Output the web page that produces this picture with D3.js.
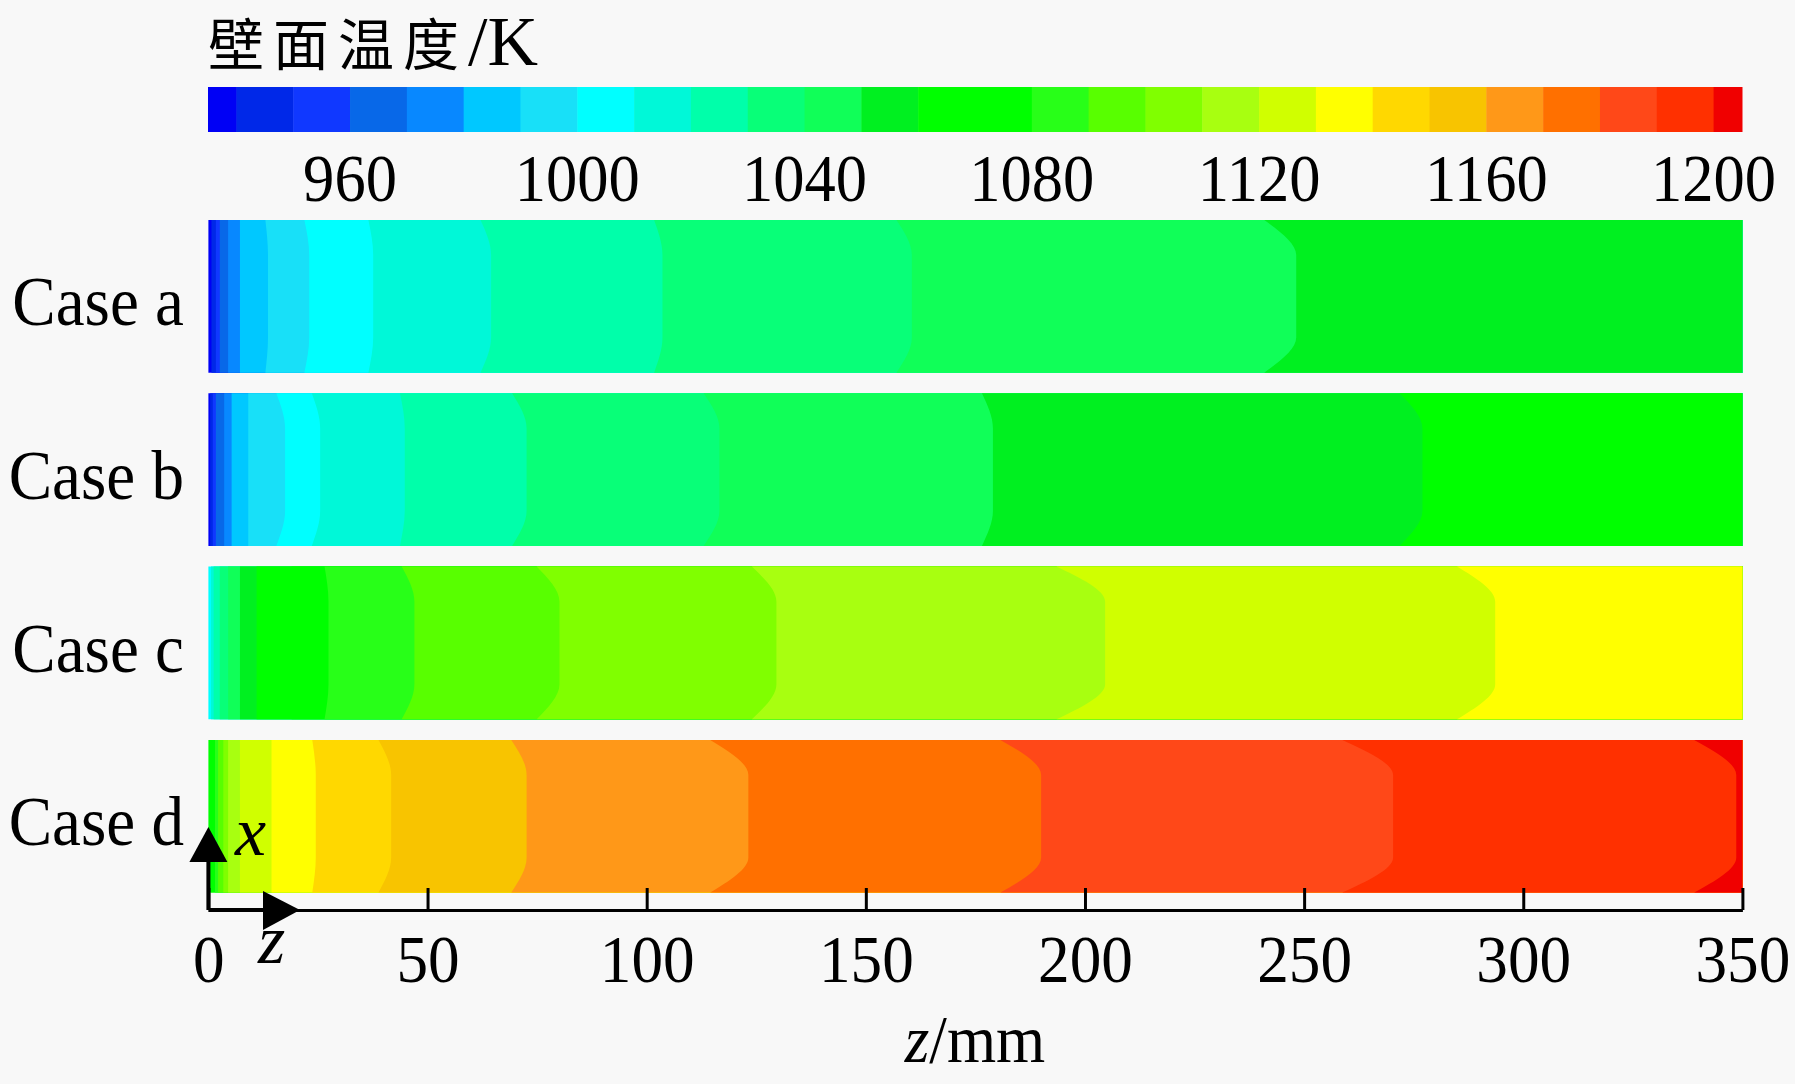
<!DOCTYPE html>
<html lang="zh">
<head>
    <meta charset="UTF-8">
    <script src="https://d3js.org/d3.v7.min.js"></script>
    <style>
        body { margin: 0; background: #f8f8f8; }
        text { font-family: "Liberation Serif", "Times New Roman", serif; fill: #000; }
    </style>
    <title>壁面温度</title>
</head>
<body>
    <div id="chart"></div>
    <script>
        // legend bands: lower bound of each band (K) and its colour
        const legendLevels = [935, 940, 950, 960, 970, 980, 990, 1000, 1010, 1020, 1030, 1040, 1050, 1060,
                              1070, 1080, 1090, 1100, 1110, 1120, 1130, 1140, 1150, 1160, 1170, 1180, 1190, 1200];
        const legendTop = 1205;
        const legendColors = ["#0000f5", "#0028e8", "#1038ff", "#0868e8", "#0888ff", "#00c8ff", "#18e0f8",
                              "#00ffff", "#00f8d8", "#00ffaa", "#08ff78", "#10ff58", "#00f020", "#00ff00",
                              "#00ff00", "#28ff18", "#58ff00", "#80ff00", "#a8ff10", "#d0ff00", "#ffff00",
                              "#ffd800", "#f8c400", "#ff9818", "#ff7000", "#ff4818", "#ff3000", "#f00000"];
        const legendTicks = [960, 1000, 1040, 1080, 1120, 1160, 1200];

        const caseNames = ["Case a", "Case b", "Case c", "Case d"];

        // per case: band level, right boundary at the wall edge (mm), right boundary at mid height (mm)
        const caseA_T    = [935, 940, 950, 960, 970, 980, 990, 1000, 1010, 1020, 1030, 1040, 1050];
        const caseA_edge = [0.7, 1.7, 2.6, 4.5, 7.2, 13.0, 21.9, 36.5, 62.1, 101.7, 157.0, 240.9, 350];
        const caseA_mid  = [0.7, 1.7, 2.6, 4.5, 7.2, 13.6, 23.0, 37.6, 64.5, 103.6, 160.5, 248.2, 350];

        const caseB_T    = [935, 940, 950, 960, 970, 980, 990, 1000, 1010, 1020, 1030, 1040, 1050, 1060];
        const caseB_edge = [0.4, 1.0, 1.7, 3.6, 5.3, 9.1, 15.5, 23.6, 43.7, 69.3, 113.0, 176.5, 271.8, 350];
        const caseB_mid  = [0.4, 1.0, 1.7, 3.6, 5.3, 9.1, 17.5, 25.5, 44.8, 72.6, 116.6, 179.0, 277.0, 350];

        const caseC_T    = [1000, 1010, 1020, 1030, 1040, 1050, 1060, 1070, 1080, 1090, 1100, 1110, 1120, 1130];
        const caseC_edge = [0.6, 1.2, 2.6, 4.5, 7.2, 11.0, 19.0, 26.5, 44.1, 74.9, 124.0, 193.5, 284.9, 350];
        const caseC_mid  = [0.6, 1.2, 2.6, 4.5, 7.2, 11.0, 19.0, 27.4, 47.0, 80.1, 129.6, 204.6, 293.6, 350];

        const caseD_T    = [1060, 1070, 1080, 1090, 1100, 1110, 1120, 1130, 1140, 1150, 1160, 1170, 1180, 1190, 1200];
        const caseD_edge = [0.5, 1.5, 2.2, 3.4, 4.5, 7.2, 14.4, 23.7, 38.8, 69.1, 114.5, 180.7, 258.7, 339.0, 350];
        const caseD_mid  = [0.5, 1.5, 2.2, 3.4, 4.5, 7.2, 14.4, 24.5, 41.7, 72.6, 123.2, 190.0, 270.3, 348.6, 350];

        const zTicks = [0, 50, 100, 150, 200, 250, 300, 350];

        const caseData = [
            {T: caseA_T, edge: caseA_edge, mid: caseA_mid},
            {T: caseB_T, edge: caseB_edge, mid: caseB_mid},
            {T: caseC_T, edge: caseC_edge, mid: caseC_mid},
            {T: caseD_T, edge: caseD_edge, mid: caseD_mid}
        ];

        var width = 1795;
        var height = 1084;

        var svg = d3.select("#chart")
            .append("svg")
            .attr("width", width)
            .attr("height", height);

        var xScale = d3.scaleLinear().domain([0, 350]).range([208.4, 1742.4]);
        var yBand = d3.scaleBand().domain(caseNames).range([220, 892.6]).paddingInner(0.119);
        var cScale = d3.scaleLinear().domain([legendLevels[0], legendTop]).range([208, 1742]);
        var colorOf = d3.scaleOrdinal(legendLevels, legendColors);

        // title
        var title = svg.append("text")
            .attr("x", 208)
            .attr("y", 65);
        title.append("tspan")
            .style("font-family", "'Noto Sans CJK SC'")
            .attr("font-size", 56)
            .attr("letter-spacing", 9)
            .text("壁面温度");
        title.append("tspan")
            .attr("font-size", 70)
            .text("/K");

        // colour bar
        var legendHi = legendLevels.slice(1).concat([legendTop]);
        svg.append("g").selectAll("rect")
            .data(legendLevels)
            .enter().append("rect")
            .attr("x", function(d) { return cScale(d); })
            .attr("y", 87)
            .attr("width", function(d, i) { return cScale(legendHi[i]) - cScale(d) + 0.5; })
            .attr("height", 45)
            .attr("fill", function(d, i) { return legendColors[i]; });

        svg.append("g").selectAll("text")
            .data(legendTicks)
            .enter().append("text")
            .attr("transform", function(d) { return "translate(" + cScale(d) + ",201) scale(0.92,1)"; })
            .attr("text-anchor", "middle")
            .attr("font-size", 68)
            .text(function(d) { return d; });

        // strips
        var boundary = d3.line().curve(d3.curveMonotoneY);
        var strips = svg.append("g");

        caseData.forEach(function(cd, k) {
            var y0 = yBand(caseNames[k]);
            var h = yBand.bandwidth();
            var g = strips.append("g");
            var xR = xScale(350);

            g.selectAll("path")
                .data(cd.T)
                .enter().append("path")
                .attr("fill", function(d) { return colorOf(d); })
                .attr("d", function(d, i) {
                    var ze = i === 0 ? 0 : cd.edge[i - 1];
                    var zm = i === 0 ? 0 : cd.mid[i - 1];
                    var pts = [
                        [xScale(ze), y0],
                        [xScale(zm), y0 + 0.23 * h],
                        [xScale(zm), y0 + 0.77 * h],
                        [xScale(ze), y0 + h]
                    ];
                    return boundary(pts) + "L" + xR + "," + (y0 + h) + "L" + xR + "," + y0 + "Z";
                });

            svg.append("text")
                .attr("transform", "translate(184," + (y0 + h / 2 + 29) + ") scale(0.93,1)")
                .attr("text-anchor", "end")
                .attr("font-size", 70)
                .text(caseNames[k]);
        });

        // z axis
        var axis = svg.append("g")
            .attr("transform", "translate(0,910)")
            .call(d3.axisBottom(xScale)
                .tickValues(zTicks)
                .tickSizeInner(-22)
                .tickSizeOuter(0)
                .tickPadding(24));
        axis.select(".domain").attr("stroke-width", 3);
        axis.selectAll(".tick line").attr("stroke-width", 3);
        axis.selectAll(".tick text")
            .attr("font-size", 68)
            .attr("font-family", "'Liberation Serif', serif")
            .attr("transform", "scale(0.93,1)");

        var axisTitle = svg.append("text")
            .attr("transform", "translate(975,1062) scale(0.93,1)")
            .attr("text-anchor", "middle")
            .attr("font-size", 68);
        axisTitle.append("tspan").attr("font-style", "italic").text("z");
        axisTitle.append("tspan").text("/mm");

        // coordinate arrows
        var x0 = xScale(0);
        svg.append("line")
            .attr("x1", x0).attr("x2", x0)
            .attr("y1", 910).attr("y2", 860)
            .attr("stroke", "#000").attr("stroke-width", 4);
        svg.append("path")
            .attr("d", "M" + (x0 - 19) + ",862L" + (x0 + 19) + ",862L" + x0 + ",827Z")
            .attr("fill", "#000");
        svg.append("line")
            .attr("x1", x0).attr("x2", 265)
            .attr("y1", 910).attr("y2", 910)
            .attr("stroke", "#000").attr("stroke-width", 4);
        svg.append("path")
            .attr("d", "M263,891L263,930L300,910Z")
            .attr("fill", "#000");
        svg.append("text")
            .attr("x", 235).attr("y", 855)
            .attr("font-size", 70)
            .attr("font-style", "italic")
            .text("x");
        svg.append("text")
            .attr("x", 258).attr("y", 963)
            .attr("font-size", 70)
            .attr("font-style", "italic")
            .text("z");
    </script>
</body>
</html>
